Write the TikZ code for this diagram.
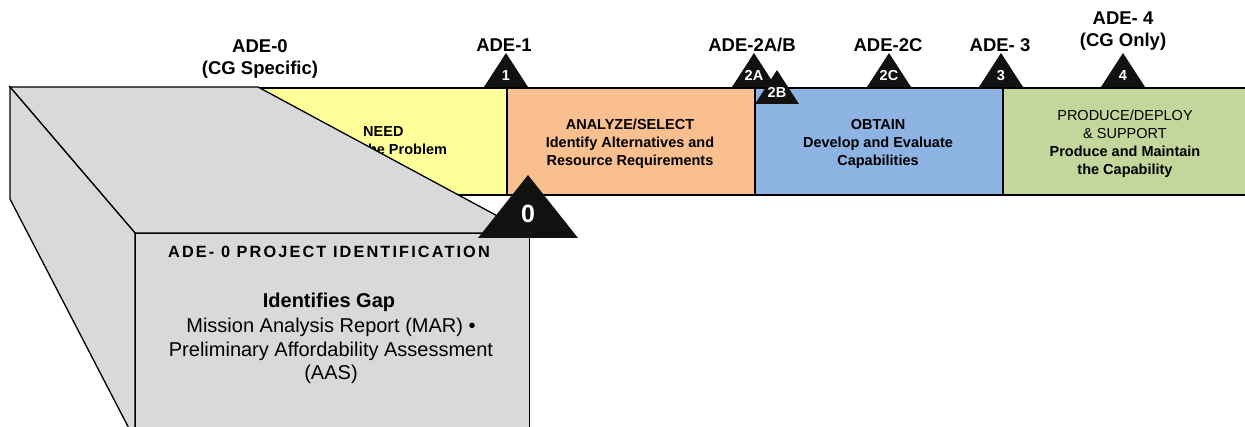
\documentclass[tikz,border=0pt]{standalone}
\usepackage{fontspec}
\setmainfont{Liberation Sans}
\definecolor{needyellow}{HTML}{FFFF99}
\definecolor{analyzeorange}{HTML}{F9BF8F}
\definecolor{obtainblue}{HTML}{8DB3E2}
\definecolor{producegreen}{HTML}{C3D69B}
\definecolor{boxgray}{HTML}{D9D9D9}
\definecolor{markblack}{HTML}{111111}
\begin{document}
\begin{tikzpicture}[x=1pt, y=-1pt, line join=miter,
  phase/.style={draw=black, line width=1.6pt, inner sep=0pt, anchor=north west, minimum height=107pt},
  phasetext/.style={align=center, inner sep=0pt, anchor=base,
    font=\fontsize{14.5}{18.3}\selectfont\bfseries},
  adelabel/.style={align=center, inner sep=0pt, anchor=base,
    font=\fontsize{18.5}{22}\selectfont\bfseries},
  cube/.style={draw=black, line width=1.3pt, fill=boxgray},
  msnum/.style={text=white, inner sep=0pt, anchor=base,
    font=\fontsize{14.5}{14.5}\selectfont\bfseries},
  pics/milestone/.style={code={
    \fill[markblack] (-22,0) -- (0,-34) -- (22,0) -- cycle;
    \node[msnum] (-num) at (0,-6) {#1};
  }}
]
\useasboundingbox (0,0) rectangle (1245,427);
\begin{scope}
\clip (0,0) rectangle (1245,427);

% phase banner
\node[phase, fill=needyellow, minimum width=496pt] (need) at (10,87) {};
\node[phase, fill=analyzeorange, minimum width=248pt] (analyze) at (506,87) {};
\node[phase, fill=obtainblue, minimum width=248pt] (obtain) at (754,87) {};
\node[phase, fill=producegreen, minimum width=260pt] (produce) at (1002,87) {};

% multi-line nodes sit on the baseline of their last line
\node[phasetext, align=left, anchor=base west] (needtext) at (363,155) {NEED\\the Problem};
\node[phasetext] (analyzetext) at (630,166) {ANALYZE/SELECT\\Identify Alternatives and\\Resource Requirements};
\node[phasetext] (obtaintext) at (878,166) {OBTAIN\\Develop and Evaluate\\Capabilities};
\node[phasetext] (producetext) at (1125,175) {{\mdseries PRODUCE/DEPLOY}\\{\mdseries\&\ SUPPORT}\\Produce and Maintain\\the Capability};

% ADE-0 block in perspective
\draw[cube] (10,87) -- (258,87) -- (529,233) -- (135,233) -- cycle;
\draw[cube] (10,87) -- (135,233) -- (135,440) -- (10,199) -- cycle;
\node[cube, minimum width=394pt, minimum height=207pt, anchor=north west, inner sep=0pt] (front) at (135,233) {};
\node[inner sep=0pt, anchor=base,
  font=\fontsize{16.3}{18}\selectfont\bfseries\addfontfeatures{LetterSpace=13}] (fronttitle) at (329,258) {ADE- 0 PROJECT IDENTIFICATION};
\node[inner sep=0pt, anchor=base, font=\fontsize{20}{24}\selectfont\bfseries] (gap) at (329,308) {Identifies Gap};
\node[inner sep=0pt, anchor=base, align=center, font=\fontsize{20}{23.5}\selectfont] (docs) at (331,380)
  {Mission Analysis Report (MAR) •\\Preliminary Affordability Assessment\\(AAS)};

% decision event markers
\fill[markblack] (478,238) -- (528,175) -- (578,238) -- cycle;
\node[text=white, inner sep=0pt, anchor=base, font=\fontsize{25}{25}\selectfont\bfseries] (zero) at (528,223) {0};
\pic (m1) at (506,87) {milestone=1};
\pic (m2a) at (754,87) {milestone=2A};
\pic (m2b) at (777,104) {milestone=2B};
\pic (m2c) at (889,87) {milestone=2C};
\pic (m3) at (1001,87) {milestone=3};
\pic (m4) at (1123,87) {milestone=4};

% decision event labels
\node[adelabel] (ade0) at (260,75) {ADE-0\\(CG Specific)};
\node[adelabel] (ade1) at (504,52) {ADE-1};
\node[adelabel] (ade2ab) at (752,52) {ADE-2A/B};
\node[adelabel] (ade2c) at (888,52) {ADE-2C};
\node[adelabel] (ade3) at (1000,52) {ADE- 3};
\node[adelabel] (ade4) at (1123,47) {ADE- 4\\(CG Only)};
\end{scope}
\end{tikzpicture}
\end{document}
